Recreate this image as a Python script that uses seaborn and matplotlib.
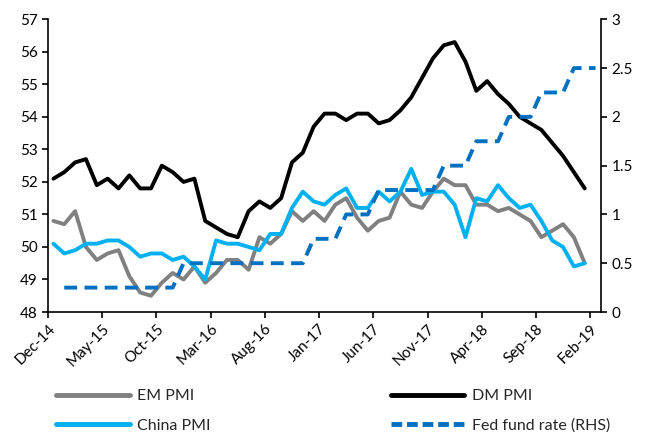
import matplotlib
matplotlib.use("Agg")
import matplotlib.pyplot as plt
import seaborn as sns
import numpy as np
import pandas as pd
from matplotlib.lines import Line2D

# ---- data (monthly, Dec-14 .. Feb-19) ----
months = pd.date_range("2014-12-01", "2019-02-01", freq="MS").strftime("%b-%y").tolist()

em_pmi = [50.8, 50.7, 51.1, 50.0, 49.6, 49.8, 49.9, 49.1, 48.6, 48.5,
          48.9, 49.2, 49.0, 49.4, 48.9, 49.2, 49.6, 49.6, 49.3, 50.3,
          50.1, 50.4, 51.1, 50.8, 51.1, 50.8, 51.3, 51.5, 50.9, 50.5,
          50.8, 50.9, 51.7, 51.3, 51.2, 51.7, 52.1, 51.9, 51.9, 51.3,
          51.3, 51.1, 51.2, 51.0, 50.8, 50.3, 50.5, 50.7, 50.3, 49.5, None]

dm_pmi = [52.1, 52.3, 52.6, 52.7, 51.9, 52.1, 51.8, 52.2, 51.8, 51.8,
          52.5, 52.3, 52.0, 52.1, 50.8, 50.6, 50.4, 50.3, 51.1, 51.4,
          51.2, 51.5, 52.6, 52.9, 53.7, 54.1, 54.1, 53.9, 54.1, 54.1,
          53.8, 53.9, 54.2, 54.6, 55.2, 55.8, 56.2, 56.3, 55.7, 54.8,
          55.1, 54.7, 54.4, 54.0, 53.8, 53.6, 53.2, 52.8, 52.3, 51.8, None]

china_pmi = [50.1, 49.8, 49.9, 50.1, 50.1, 50.2, 50.2, 50.0, 49.7, 49.8,
             49.8, 49.6, 49.7, 49.4, 49.0, 50.2, 50.1, 50.1, 50.0, 49.9,
             50.4, 50.4, 51.2, 51.7, 51.4, 51.3, 51.6, 51.8, 51.2, 51.2,
             51.7, 51.4, 51.7, 52.4, 51.6, 51.7, 51.7, 51.3, 50.3, 51.5,
             51.4, 51.9, 51.5, 51.2, 51.3, 50.8, 50.2, 50.0, 49.4, 49.5, None]

fed_rate = [None] + [0.25] * 11 + [0.5] * 12 + [0.75] * 3 + [1.0] * 3 + \
           [1.25] * 6 + [1.5] * 3 + [1.75] * 3 + [2.0] * 3 + [2.25] * 3 + [2.5] * 3

tick_labels = months[::5]

df = pd.DataFrame({"month": months, "EM PMI": em_pmi, "DM PMI": dm_pmi,
                   "China PMI": china_pmi, "Fed": fed_rate})
df["pos"] = np.arange(len(df)) + 0.5
df = df.astype({"EM PMI": float, "DM PMI": float, "China PMI": float, "Fed": float})

# ---- style ----
sns.set_style("ticks")
plt.rcParams["font.family"] = ["Lato", "DejaVu Sans"]
plt.rcParams["font.size"] = 11

fig = plt.figure(figsize=(6.46, 4.32), dpi=100)
ax = fig.add_axes([48 / 646, 1 - 312 / 432, (601 - 48) / 646, (312 - 19.3) / 432])
ax2 = ax.twinx()

lw = 2.8
c_em, c_dm, c_cn, c_fed = "#808080", "#000000", "#00B0F0", "#0070C0"

sns.lineplot(data=df, x="pos", y="EM PMI", ax=ax, color=c_em, lw=lw)
sns.lineplot(data=df, x="pos", y="DM PMI", ax=ax, color=c_dm, lw=lw)
sns.lineplot(data=df, x="pos", y="China PMI", ax=ax, color=c_cn, lw=lw)
sns.lineplot(data=df, x="pos", y="Fed", ax=ax2, color=c_fed, lw=lw,
             dashes=False)
ax2.lines[0].set_dashes((3.3, 1.9))
ax2.lines[0].set_dash_capstyle("butt")

ax.set_xlim(0, len(months))
ax.set_ylim(48, 57)
ax2.set_ylim(0, 3)
ax.set_yticks(np.arange(48, 58, 1))
ax2.set_yticks([0, 0.5, 1, 1.5, 2, 2.5, 3])
ax2.set_yticklabels(["0", "0.5", "1", "1.5", "2", "2.5", "3"])
ax.set_xticks(np.arange(0, len(months), 5))
ax.set_xticklabels(tick_labels, rotation=45, ha="right", rotation_mode="anchor")
ax.set_xlabel("")
ax.set_ylabel("")
ax2.set_ylabel("")

for a in (ax, ax2):
    a.spines["top"].set_visible(False)
    for s in a.spines.values():
        s.set_linewidth(1.2)
        s.set_color("black")
    a.tick_params(axis="both", direction="out", length=4, width=1.2,
                  labelsize=11, colors="black")
ax.spines["right"].set_visible(False)
ax2.spines["left"].set_visible(False)
ax2.spines["bottom"].set_visible(False)
ax.tick_params(axis="x", pad=3)

handles = [
    Line2D([], [], color=c_em, lw=3.5),
    Line2D([], [], color=c_cn, lw=3.5),
    Line2D([], [], color=c_dm, lw=3.5),
    Line2D([], [], color=c_fed, lw=3.5, dashes=(2.2, 1.0)),
]
labels = ["EM PMI", "China PMI", "DM PMI", "Fed fund rate (RHS)"]
fig.legend(handles, labels, ncol=2, frameon=False, loc="lower left",
           bbox_to_anchor=(0.065, -0.035), handlelength=4.6, handletextpad=0.45,
           columnspacing=11.3, labelspacing=0.95, fontsize=11.5)

fig.savefig("out.png", dpi=100)
